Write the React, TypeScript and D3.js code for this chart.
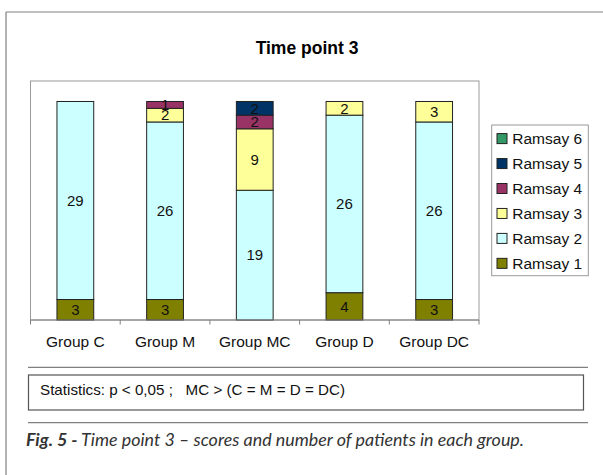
import { useMemo } from 'react'
import * as d3 from 'd3'

const groups = ['Group C', 'Group M', 'Group MC', 'Group D', 'Group DC']
const seriesNames = ['Ramsay 1', 'Ramsay 2', 'Ramsay 3', 'Ramsay 4', 'Ramsay 5', 'Ramsay 6']
const ramsay1 = [3, 3, 0, 4, 3]
const ramsay2 = [29, 26, 19, 26, 26]
const ramsay3 = [0, 2, 9, 2, 3]
const ramsay4 = [0, 1, 2, 0, 0]
const ramsay5 = [0, 0, 2, 0, 0]
const ramsay6 = [0, 0, 0, 0, 0]
const colors = ['#808000', '#CCFFFF', '#FFFF99', '#993366', '#003366', '#339966']

const title = 'Time point 3'
const statsText = 'Statistics: p < 0,05 ;   MC > (C = M = D = DC)'

const width = 603
const height = 475
const plot = { left: 30.5, right: 479, top: 81, bottom: 320 }
const arial = 'Arial, "Liberation Sans", sans-serif'

export default function App() {
  const rows = useMemo(() => {
    const all = [ramsay1, ramsay2, ramsay3, ramsay4, ramsay5, ramsay6]
    return groups.map((g, i) => {
      const r: Record<string, any> = { group: g }
      seriesNames.forEach((s, k) => { r[s] = all[k][i] })
      return r
    })
  }, [])

  const stacked = d3.stack<any>().keys(seriesNames)(rows)

  const x = d3.scaleBand()
    .domain(groups)
    .range([plot.left, plot.right])
    .paddingInner(0.59)
    .paddingOuter(0.295)

  const y = d3.scaleLinear()
    .domain([0, 35])
    .range([plot.bottom, plot.top])

  const step = x.step()
  const ticks = d3.range(groups.length + 1).map(i => plot.left + i * step)

  return (
    <svg width={width} height={height} style={{ position: 'absolute', left: 0, top: 0, background: '#fff' }}>
      {/* outer frame */}
      <line x1={6} y1={12} x2={width} y2={12} stroke="#808080" strokeWidth={1.2} />
      <line x1={6} y1={12} x2={6} y2={height} stroke="#808080" strokeWidth={1.2} />

      <text x={307} y={54} textAnchor="middle" fontFamily={arial} fontWeight="bold" fontSize={17.5}>{title}</text>

      <rect x={plot.left} y={plot.top} width={plot.right - plot.left} height={plot.bottom - plot.top}
        fill="none" stroke="#9a9a9a" strokeWidth={1} />

      {stacked.map((layer, k) => (
        <g key={layer.key} fill={colors[k]} stroke="#222" strokeWidth={1}>
          {layer.map((d, i) => d[1] - d[0] > 0 ? (
            <rect key={i} x={x(groups[i])} y={y(d[1])} width={x.bandwidth()} height={y(d[0]) - y(d[1])} />
          ) : null)}
        </g>
      ))}

      {stacked.map(layer => (
        <g key={'l' + layer.key} fontFamily={arial} fontSize={15} textAnchor="middle" fill="#111">
          {layer.map((d, i) => d[1] - d[0] > 0 ? (
            <text key={i} x={(x(groups[i]) || 0) + x.bandwidth() / 2} y={y((d[0] + d[1]) / 2) + 5.3}>
              {d[1] - d[0]}
            </text>
          ) : null)}
        </g>
      ))}

      {/* x axis */}
      <line x1={plot.left} y1={plot.bottom} x2={plot.right} y2={plot.bottom} stroke="#808080" />
      {ticks.map((t, i) => (
        <line key={i} x1={t} y1={plot.bottom} x2={t} y2={plot.bottom + 4.5} stroke="#808080" />
      ))}
      {groups.map(g => (
        <text key={g} x={(x(g) || 0) + x.bandwidth() / 2} y={346.7} textAnchor="middle"
          fontFamily={arial} fontSize={15.5} fill="#111">{g}</text>
      ))}

      {/* legend */}
      <rect x={491.7} y={125} width={96.6} height={150.7} fill="#fff" stroke="#9a9a9a" />
      {seriesNames.slice().reverse().map((s, i) => {
        const cy = 138.6 + i * 24.95
        const color = colors[seriesNames.indexOf(s)]
        return (
          <g key={s}>
            <rect x={497} y={cy - 5} width={10} height={10} fill={color} stroke="#222" />
            <text x={512.3} y={cy + 5.5} fontFamily={arial} fontSize={15.5} fill="#111">{s}</text>
          </g>
        )
      })}

      {/* statistics box */}
      <line x1={28} y1={367.3} x2={588} y2={367.3} stroke="#808080" strokeWidth={1.2} />
      <rect x={28.5} y={375} width={555} height={35} fill="#fff" stroke="#555" strokeWidth={1.2} />
      <text x={40} y={395} fontFamily={arial} fontSize={15} fill="#111" style={{ whiteSpace: 'pre' }}
        textLength={305} lengthAdjust="spacingAndGlyphs">{statsText}</text>
      <line x1={28} y1={422.7} x2={588} y2={422.7} stroke="#808080" strokeWidth={1.2} />

      {/* caption */}
      <text x={26} y={446} fontFamily="Lato, 'Open Sans', sans-serif" fontStyle="italic" fontSize={16.5} fill="#333"
        style={{ whiteSpace: 'pre' }} textLength={498} lengthAdjust="spacingAndGlyphs">
        <tspan fontWeight="bold">Fig. 5 -</tspan>
        <tspan> Time point 3 – scores and number of patients in each group.</tspan>
      </text>
    </svg>
  )
}
